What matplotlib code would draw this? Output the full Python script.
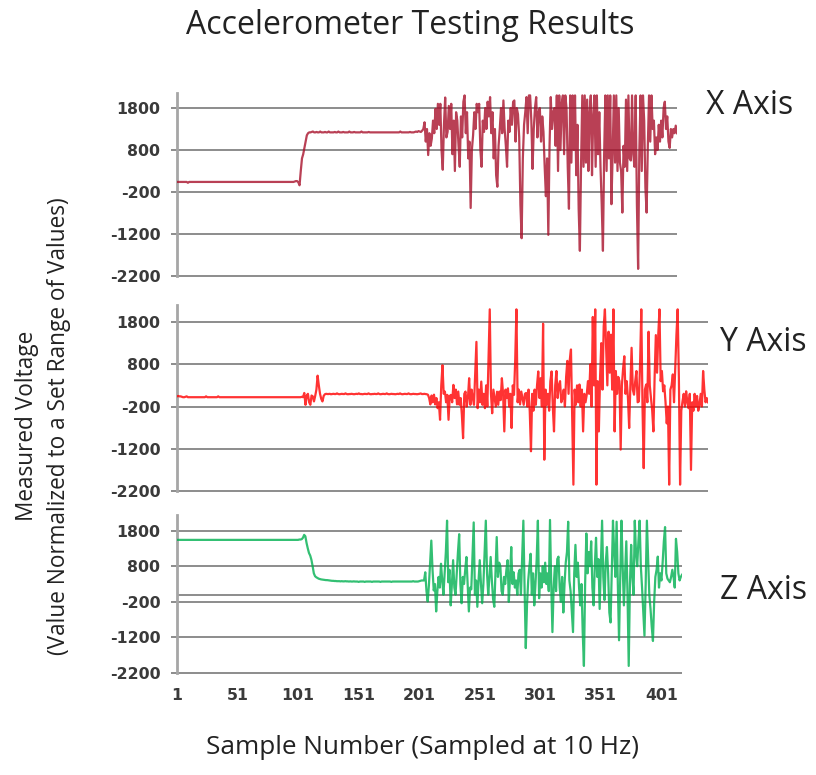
import matplotlib
matplotlib.use('Agg')
import matplotlib.pyplot as plt

# ─── Data (one value per sample, starting at sample 1) ───

x_axis_vals = [
    # 1-100 : resting level
    40, 40, 40, 40, 40, 40, 40, 40, 40, 20, 40, 40, 40, 40, 40, 40, 40, 40, 40, 40,
    40, 40, 40, 40, 40, 40, 40, 40, 40, 40, 40, 40, 40, 40, 40, 40, 40, 40, 40, 40,
    40, 40, 40, 40, 40, 40, 40, 40, 40, 40, 40, 40, 40, 40, 40, 40, 40, 40, 40, 40,
    40, 40, 40, 40, 40, 40, 40, 40, 40, 40, 40, 40, 40, 40, 40, 40, 40, 40, 40, 40,
    40, 40, 40, 40, 40, 40, 40, 40, 40, 40, 40, 40, 40, 40, 40, 40, 40, 50, 60, 60,
    # 101-110 : step up
    30, -40, 300, 600, 700, 850, 1000, 1150, 1200, 1220,
    # 111-196 : second level
    1220, 1230, 1240, 1220, 1220, 1230, 1220, 1220, 1240, 1220, 1220, 1220, 1230, 1220, 1220, 1240, 1220, 1220, 1220, 1220,
    1230, 1220, 1220, 1240, 1220, 1220, 1220, 1230, 1220, 1220, 1220, 1220, 1240, 1220, 1220, 1220, 1230, 1220, 1220, 1220,
    1220, 1220, 1240, 1220, 1220, 1220, 1220, 1220, 1230, 1220, 1220, 1220, 1220, 1220, 1220, 1220, 1220, 1220, 1220, 1220,
    1220, 1220, 1220, 1220, 1220, 1220, 1220, 1220, 1220, 1220, 1220, 1220, 1220, 1220, 1240, 1220, 1220, 1220, 1220, 1220,
    1220, 1220, 1230, 1220, 1220, 1220,
    # 197-204
    1230, 1240, 1230, 1250, 1240, 1230, 1260, 1300,
    # 205-413 : shaking
    1460, 1000, 1300, 680, 1200, 900, 1070, 1500, 1200, 1780, 1300, 1900, 1400, 1900, 800, 330, 1400, 2050, 1100, 1230,
    1850, 1300, 1900, 700, 1500, 300, 1700, 1500, 900, 400, 1600, 1100, 1950, 2100, 1200, 1700, 600, 1000, -580, 800,
    1150, 1700, 1300, 1900, 1700, 1900, 800, 400, 1500, 1230, 1800, 1300, 1950, 1600, 2060, 1200, 1700, 600, 1300, 200,
    -75, 900, 1300, 1800, 1200, 1980, 1300, 900, 400, 1500, 1230, 1800, 1400, 1950, 1980, 1000, 1800, 1650, 1100, -500,
    -1300, 600, 1400, 1700, 2060, 1200, 2100, 2100, 1500, 350, 1300, 1800, 2060, 1100, 1700, 1800, 1000, 1600, 1230, 400,
    -300, 600, -1220, 900, 2060, 1300, 1700, 1800, 900, 2100, 300, 2100, 800, 1900, 2100, 700, 2100, 1800, 400, -600,
    2100, 500, 2100, 800, 2100, 200, 1400, -600, -1600, 500, 2100, 400, 2100, 500, 2000, 300, 1700, 2100, 200, 1600,
    2100, 400, 2100, 700, 1700, 400, -500, -1600, 700, 2100, 300, 2100, 600, 2100, -490, 700, 2100, 500, 2100, 300,
    1800, 500, 300, -690, 900, 400, 2000, 300, 2100, 600, 550, 2100, 700, 400, 2100, -500, -2030, 800, 2100, 300,
    2100, 1500, -100, -690, 900, 2100, 1000, 2100, 1300, 1500, 700, 1100, 800, 1400, 1000, 1500, 1100, 1800, 1950, 1300,
    1600, 1000, 850, 1300, 1100, 1300, 1200, 1380, 1200,
]

y_axis_vals = [
    # 1-100 : resting level
    40, 50, 40, 40, 30, 20, 20, 30, 40, 20, 20, 20, 20, 20, 20, 20, 20, 20, 20, 20,
    20, 20, 20, 20, 40, 20, 20, 20, 20, 20, 20, 20, 20, 20, 40, 20, 20, 20, 20, 20,
    20, 20, 20, 20, 20, 20, 20, 20, 20, 20, 20, 20, 20, 20, 20, 20, 20, 20, 20, 20,
    20, 20, 20, 20, 20, 20, 20, 20, 20, 20, 20, 20, 20, 20, 20, 20, 20, 20, 20, 20,
    20, 20, 20, 20, 20, 20, 20, 20, 20, 20, 20, 20, 20, 20, 20, 20, 20, 20, 20, 20,
    # 101-125 : small bump
    20, 20, 20, 30, 20, 120, -160, 60, 100, -100, -160, 60, 40, -80, 50, 200, 530, 300, 100, -20,
    -80, 50, 90, 100, 95,
    # 126-208 : second level
    95, 100, 90, 95, 100, 95, 95, 110, 95, 90, 95, 100, 95, 95, 110, 95, 90, 95, 95, 100,
    95, 90, 95, 100, 95, 110, 95, 95, 90, 95, 100, 95, 95, 110, 95, 90, 95, 95, 100, 95,
    95, 110, 95, 90, 95, 100, 95, 95, 110, 95, 90, 95, 100, 95, 95, 90, 95, 100, 95, 110,
    95, 90, 95, 100, 95, 95, 110, 95, 90, 95, 100, 95, 95, 90, 95, 100, 110, 95, 95, 100,
    95, 90, 80,
    # 209-439 : shaking
    0, -150, 60, -100, 80, -150, 0, -240, -100, -515, 300, 776, 100, 154, -100, 75, -515, 50, 75, -100,
    312, 0, 200, -150, 154, -160, 0, -400, -950, 100, 154, -200, 0, 470, -160, 200, 0, -160, 600, 1330,
    -240, 200, -100, 390, -160, 100, -240, 300, -200, 900, 2100, 100, -360, 200, 0, -200, 150, -160, 154, -50,
    470, 100, -790, 200, 0, 230, -200, 100, -710, 300, 75, 900, 2100, -100, 200, -150, 154, 0, -160, 100,
    120, -200, 200, -320, -1260, 100, -300, 200, -160, 300, 630, 0, 470, -200, 1760, -1460, 200, -160, 100, -300,
    400, 630, -200, -790, 300, 640, 0, 300, 400, -100, 0, 200, -200, 500, 880, 100, 900, 1150, -500, -2050,
    200, -160, 300, -100, 320, -200, 200, -790, 100, -100, 80, 400, 100, 800, -200, 1920, 300, 2100, -2050, 400,
    -790, 500, 1300, 200, 1700, 2100, 1190, 300, 1570, 600, 1500, 200, 2100, -790, 640, 100, 500, 400, -1220, 300,
    700, 990, 100, 400, 0, -710, 300, 1190, 200, 80, 400, 640, -100, -80, 800, 2100, -200, -1660, 200, 320,
    -100, 1570, 300, 0, -300, -790, 500, 1490, 600, 1500, 2100, 400, 640, 160, 300, -100, -600, -200, -2050, 200,
    300, 560, -100, 720, 1500, 2100, 500, -2050, -300, -80, 100, -200, 160, -100, -240, 100, -1700, -100, -300, 100,
    -200, 50, -300, -150, 100, -200, 640, 200, -100, 0, -100,
]

z_axis_vals = [
    # 1-100 : resting level
    1540, 1540, 1540, 1540, 1540, 1540, 1540, 1540, 1540, 1540, 1540, 1540, 1540, 1540, 1540, 1540, 1540, 1540, 1540, 1540,
    1540, 1540, 1540, 1540, 1540, 1540, 1540, 1540, 1540, 1540, 1540, 1540, 1540, 1540, 1540, 1540, 1540, 1540, 1540, 1540,
    1540, 1540, 1540, 1540, 1540, 1540, 1540, 1540, 1540, 1540, 1540, 1540, 1540, 1540, 1540, 1540, 1540, 1540, 1540, 1540,
    1540, 1540, 1540, 1540, 1540, 1540, 1540, 1540, 1540, 1540, 1540, 1540, 1540, 1540, 1540, 1540, 1540, 1540, 1540, 1540,
    1540, 1540, 1540, 1540, 1540, 1540, 1540, 1540, 1540, 1540, 1540, 1540, 1540, 1540, 1540, 1540, 1540, 1540, 1540, 1540,
    # 101-127 : step down
    1540, 1550, 1550, 1560, 1600, 1680, 1640, 1450, 1300, 1170, 1100, 980, 800, 600, 520, 490, 470, 450, 440, 430,
    425, 420, 415, 410, 410, 405, 400,
    # 128-204 : second level
    395, 390, 390, 385, 385, 380, 380, 380, 375, 380, 375, 375, 380, 375, 375, 370, 375, 370, 370, 375,
    370, 370, 370, 360, 370, 370, 370, 370, 360, 370, 370, 370, 370, 370, 360, 370, 370, 370, 370, 370,
    370, 360, 370, 370, 370, 370, 370, 370, 370, 370, 360, 370, 370, 370, 370, 370, 370, 370, 370, 370,
    370, 370, 370, 370, 370, 370, 370, 370, 380, 370, 370, 370, 370, 380, 390, 400, 400,
    # 205-418 : shaking
    400, 630, 100, -190, 260, 900, 1520, 700, 120, 300, -470, 100, 500, 200, 870, 400, 0, 600, 1200, 2080,
    350, 700, -300, 300, 970, 200, 0, 600, 1200, 1700, 300, -240, 500, 300, 700, 1060, 300, -470, 200, 150,
    1100, 2030, 0, 400, -340, 400, 970, 300, -240, 300, 1200, 2080, 600, 0, 500, 1060, 400, -120, -340, 600,
    1620, 500, 900, 800, 100, 0, 500, 300, 700, 970, -200, 500, 1340, 300, 630, 200, 400, 0, 600, 700,
    0, 1000, 2080, 200, -1500, -300, 400, 800, 1150, 0, 600, -300, 300, 1000, 2080, -100, 600, 200, 800, 350,
    900, 300, 600, 100, 2100, 300, -1050, 200, 800, 100, 1000, 1070, 200, -200, 500, -500, 300, 900, 1200, 2050,
    400, 100, -500, -1050, 600, 1400, 500, 900, 200, -300, 300, -1050, -2000, 300, 1720, 600, 1200, 800, 1500, 200,
    -300, 800, 1600, 500, 1000, -400, 800, 2080, 500, -150, 900, 1340, 600, -500, -780, 700, 2080, 1200, 500, 2050,
    300, -1280, 500, 2080, 800, -300, 600, 1500, 0, -2000, 300, 1400, 500, 0, 2080, 1200, 800, 1500, 2080, 800,
    200, -500, -1150, 300, 2080, 1000, 0, -400, -900, -1300, -200, 500, 700, 1070, 200, 600, 400, 900, 1500, 1900,
    600, 450, 400, 350, 500, 700, 500, 200, 1570, 1200, 600, 400, 500, 560,
]

y_ticks = [1800, 800, -200, -1200, -2200]
x_ticks = [1, 51, 101, 151, 201, 251, 301, 351, 401]
panel_names = ["X Axis", "Y Axis", "Z Axis"]
line_colors = ['#A8102A', '#FF0000', '#00B050']

GRID = '#8C8C8C'
TICK_TXT = '#3A3A3A'

fig = plt.figure(figsize=(8.16, 7.75), dpi=100)

# axes rectangles in figure fraction (left, bottom, width, height) and y limits
rects = [
    [0.2169, 0.6406, 0.6127, 0.2390],
    [0.2169, 0.3632, 0.6507, 0.2431],
    [0.2169, 0.1288, 0.6189, 0.2072],
]
ytops = [2150, 2200, 2250]
name_pos = [(0.919, 0.8645), (0.935, 0.5587), (0.936, 0.2387)]

for i, vals in enumerate([x_axis_vals, y_axis_vals, z_axis_vals]):
    ax = fig.add_axes(rects[i])
    samples = list(range(1, len(vals) + 1))
    ax.plot(samples, vals, color=line_colors[i], linewidth=1.6, alpha=0.8, zorder=3)
    ax.set_xlim(1, len(vals))
    ax.set_ylim(-2260, ytops[i])

    for v in y_ticks:
        ax.axhline(v, color=GRID, linewidth=1.4, zorder=1)
    if i == 2:
        # category axis crosses at zero in the bottom chart
        ax.axhline(0, color=GRID, linewidth=1.4, zorder=1)

    for side in ['top', 'right', 'bottom']:
        ax.spines[side].set_visible(False)
    ax.spines['left'].set_color('#A6A6A6')
    ax.spines['left'].set_linewidth(2)
    ax.spines['left'].set_bounds(-2200, ytops[i])

    ax.set_yticks(y_ticks)
    ax.set_yticklabels([str(v) for v in y_ticks])
    ax.tick_params(axis='y', direction='out', length=4, width=1.4, color=GRID,
                   pad=8, labelsize=11.3, labelcolor=TICK_TXT)
    for lab in ax.get_yticklabels():
        lab.set_fontweight('bold')

    if i == 2:
        ax.set_xticks(x_ticks)
        ax.set_xticklabels([str(v) for v in x_ticks])
        ax.tick_params(axis='x', length=0, pad=9, labelsize=11.3, labelcolor=TICK_TXT)
        for lab in ax.get_xticklabels():
            lab.set_fontweight('bold')
    else:
        ax.set_xticks([])

    fig.text(name_pos[i][0], name_pos[i][1], panel_names[i], ha='center', va='center',
             fontsize=23, color='#222222', family='Open Sans')

fig.text(0.5025, 0.9677, "Accelerometer Testing Results", ha='center', va='center',
         fontsize=23, color='#222222', family='Open Sans')
fig.text(0.518, 0.035, "Sample Number (Sampled at 10 Hz)", ha='center', va='center',
         fontsize=18.8, color='#222222', family='Open Sans')
fig.text(0.053, 0.45, "Measured Voltage\n(Value Normalized to a Set Range of Values)",
         ha='center', va='center', rotation=90, fontsize=16.3, color='#222222',
         family='Open Sans', linespacing=1.45, multialignment='center')

fig.savefig("out.png", dpi=100)
plt.close(fig)
print("saved out.png")
